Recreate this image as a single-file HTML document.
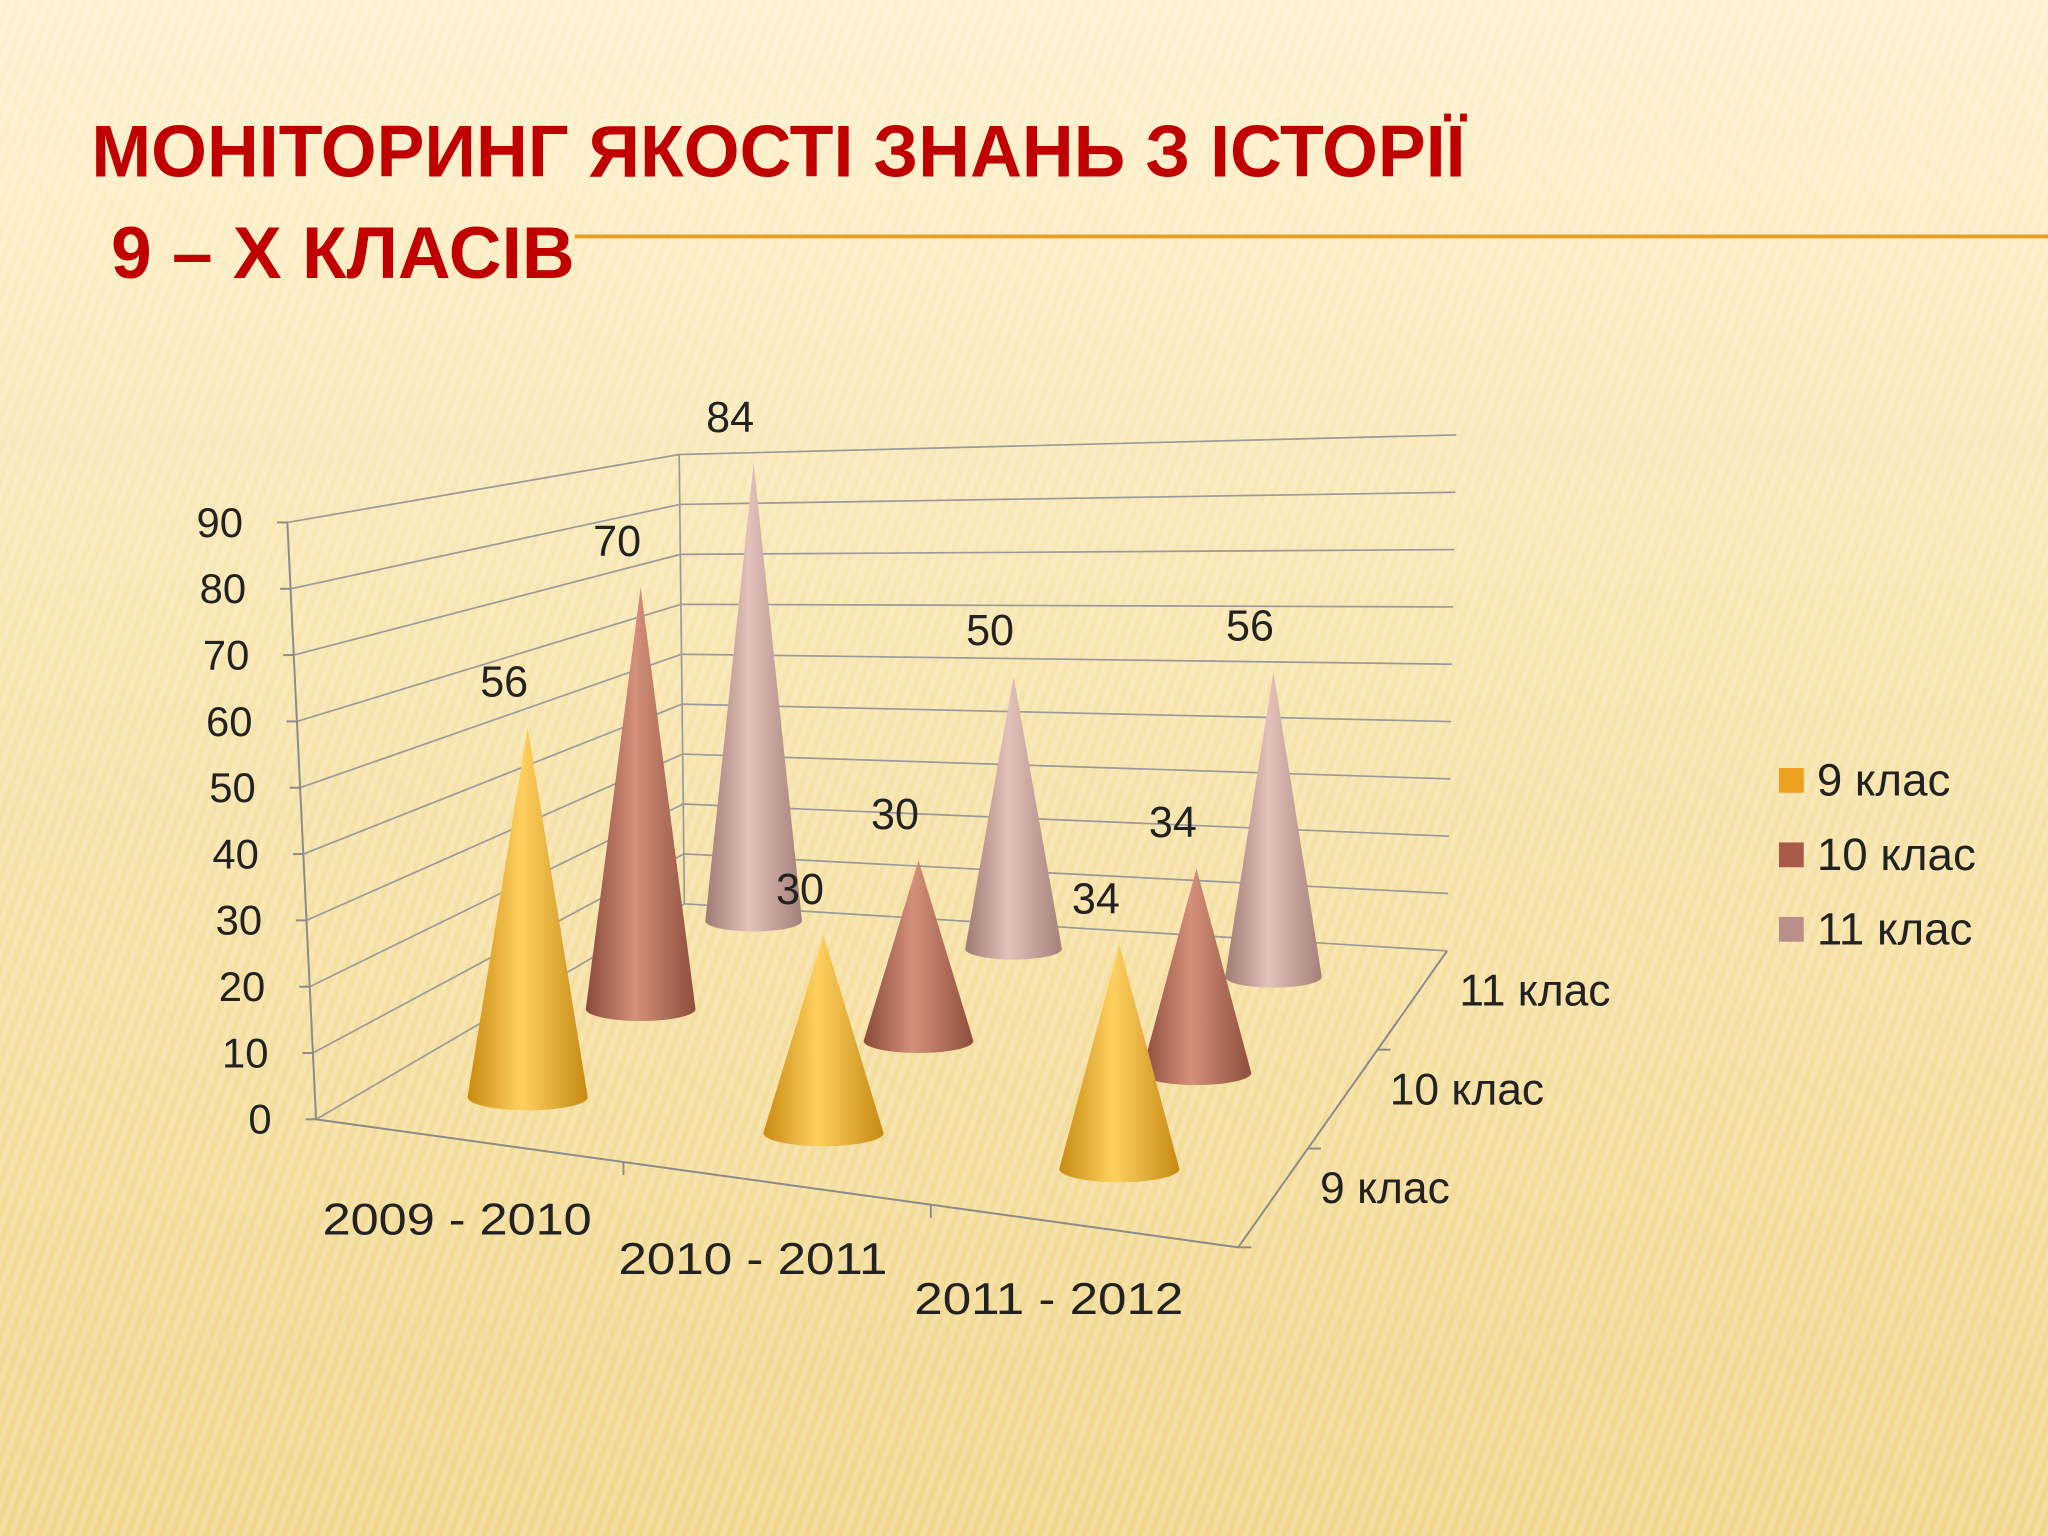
<!DOCTYPE html>
<html><head><meta charset="utf-8"><style>
html,body{margin:0;padding:0;width:2048px;height:1536px;overflow:hidden}
svg{display:block}
text{font-family:"Liberation Sans","DejaVu Sans",sans-serif}
</style></head><body>
<svg id="chart" width="2048" height="1536" viewBox="0 0 1568 1176" xmlns="http://www.w3.org/2000/svg">
<defs>
<linearGradient id="bg" x1="0" y1="0" x2="0" y2="1">
<stop offset="0" stop-color="#fdf1cf"/><stop offset="0.4" stop-color="#f8e6b0"/><stop offset="1" stop-color="#f1d68c"/>
</linearGradient>
<pattern id="stripes" width="8" height="8" patternUnits="userSpaceOnUse" patternTransform="rotate(20)">
<rect width="4" height="8" fill="#ffffff" opacity="0.18"/>
</pattern>
<linearGradient id="g0" x1="0" x2="1"><stop offset="0" stop-color="#c98a10"/><stop offset="0.45" stop-color="#ffd060"/><stop offset="1" stop-color="#c68a12"/></linearGradient>
<linearGradient id="g1" x1="0" x2="1"><stop offset="0" stop-color="#8a4a3a"/><stop offset="0.45" stop-color="#d4907a"/><stop offset="1" stop-color="#8e4e3c"/></linearGradient>
<linearGradient id="g2" x1="0" x2="1"><stop offset="0" stop-color="#9e7a74"/><stop offset="0.45" stop-color="#e3c2bb"/><stop offset="1" stop-color="#a3807a"/></linearGradient>
</defs>
<rect width="1568" height="1176" fill="url(#bg)"/>
<rect width="1568" height="1176" fill="url(#stripes)"/>
<line x1="440" y1="181" x2="1568" y2="181" stroke="#e8a020" stroke-width="3"/>
<text x="70" y="135" fill="#c00000" font-weight="bold" font-size="56" textLength="1052" lengthAdjust="spacingAndGlyphs">МОНІТОРИНГ ЯКОСТІ ЗНАНЬ З ІСТОРІЇ</text>
<text x="85" y="213" fill="#c00000" font-weight="bold" font-size="56" textLength="355" lengthAdjust="spacingAndGlyphs">9 – Х КЛАСІВ</text>
<g id="walls" stroke="#9a9a9a" stroke-width="1.3" fill="none"></g>
<g id="axes"></g>
<g id="cones"></g>
<g id="legend"></g>
</svg>
<script>
const categories = ["2009 - 2010", "2010 - 2011", "2011 - 2012"];
const seriesNames = ["9 клас", "10 клас", "11 клас"];
const series9 = [56, 30, 34];
const series10 = [70, 30, 34];
const series11 = [84, 50, 56];
const yTicks = [0,10,20,30,40,50,60,70,80,90];

const NS = "http://www.w3.org/2000/svg";
const allSeries = [series9, series10, series11];
function mk(tag, attrs, parent){const e=document.createElementNS(NS,tag);for(const k in attrs)e.setAttribute(k,attrs[k]);parent.appendChild(e);return e;}
const FLb=[242,857], FLt=[220,400], BLb=[524,692], BLt=[520,348], BRb=[1108,728], BRt=[1115,333], FRb=[948,955];
const lerp=(a,b,t)=>[a[0]+(b[0]-a[0])*t,a[1]+(b[1]-a[1])*t];
const P00=[404,840], P20=[857,895], P02=[577,705], P22=[975,748];
function baseAt(i,j){const u=i/2,v=j/2;const a=lerp(P00,P20,u),b=lerp(P02,P22,u);return lerp(a,b,v);}
function scaleAt(j){return 5.05-0.44*j;}
function yv(v){return v/90;}

const walls=document.getElementById('walls');
yTicks.forEach(t=>{
  const f=lerp(FLb,FLt,yv(t)), b=lerp(BLb,BLt,yv(t)), r=lerp(BRb,BRt,yv(t));
  const p=mk('polyline',{points:`${f[0]},${f[1]} ${b[0]},${b[1]} ${r[0]},${r[1]}`},walls);
  
  
});
const ax=document.getElementById('axes');
mk('line',{x1:FLb[0],y1:FLb[1],x2:FLt[0],y2:FLt[1],stroke:'#8a8a8a','stroke-width':1.5},ax);
mk('line',{x1:BLb[0],y1:BLb[1],x2:BLt[0],y2:BLt[1],stroke:'#9a9a9a','stroke-width':1.3},ax);
mk('line',{x1:FLb[0],y1:FLb[1],x2:FRb[0],y2:FRb[1],stroke:'#8a8a8a','stroke-width':1.5},ax);
mk('line',{x1:FRb[0],y1:FRb[1],x2:BRb[0],y2:BRb[1],stroke:'#8a8a8a','stroke-width':1.5},ax);
yTicks.forEach(t=>{
  const f=lerp(FLb,FLt,yv(t));
  mk('line',{x1:f[0]-8,y1:f[1],x2:f[0],y2:f[1],stroke:'#8a8a8a','stroke-width':1.5},ax);
  const tx=mk('text',{x:f[0]-34,y:f[1]+11,'text-anchor':'end','font-size':32,fill:'#222'},ax);
  tx.textContent=t;
  
  
});
categories.forEach((c,i)=>{
  const t=(i+1)/3, p=lerp(FLb,FRb,t);
  if(i<2) mk('line',{x1:p[0],y1:p[1],x2:p[0],y2:p[1]+10,stroke:'#8a8a8a','stroke-width':1.5},ax);
  const b=baseAt(i,0);
  const tx=mk('text',{x:b[0]-54,y:b[1]+105+i*3,'text-anchor':'middle','font-size':34,fill:'#222',textLength:206,lengthAdjust:'spacingAndGlyphs'},ax);
  tx.textContent=c;
  
  
});
seriesNames.forEach((n,j)=>{
  const p=lerp(FRb,BRb,(j+0.5)/3);
  const tx=mk('text',{x:p[0]+36,y:p[1]+4,'font-size':34,fill:'#222'},ax);
  tx.textContent=n;
  
  
  const q=lerp(FRb,BRb,j/3);
  mk('line',{x1:q[0],y1:q[1],x2:q[0]+10,y2:q[1],stroke:'#8a8a8a','stroke-width':1.5},ax);
});
const cones=document.getElementById('cones');
const radii=[46,42,37];
for(let j=2;j>=0;j--){
  for(let i=0;i<categories.length;i++){
    const v=allSeries[j][i], b=baseAt(i,j), h=v*scaleAt(j), r=radii[j], ry=r*0.22;
    const g=mk('g',{},cones);
    
    
    mk('path',{d:`M${b[0]-r},${b[1]} L${b[0]},${b[1]-h} L${b[0]+r},${b[1]} A${r},${ry} 0 0 1 ${b[0]-r},${b[1]} Z`,fill:`url(#g${j})`},g);
    const lb=mk('text',{x:b[0]-18,y:b[1]-h-24,'text-anchor':'middle','font-size':33,fill:'#222'},g);
    lb.textContent=v;
    
    
  }
}
const lg=document.getElementById('legend');
const lc=['#eea020','#a85a48','#b89088'];
seriesNames.forEach((n,j)=>{
  const y=597+j*57;
  const it=mk('g',{},lg);
  
  
  mk('rect',{x:1362,y:y-9,width:19,height:19,fill:lc[j]},it);
  const tx=mk('text',{x:1391,y:y+12,'font-size':35,fill:'#222'},it);
  tx.textContent=n;
});
</script>
</body></html>
